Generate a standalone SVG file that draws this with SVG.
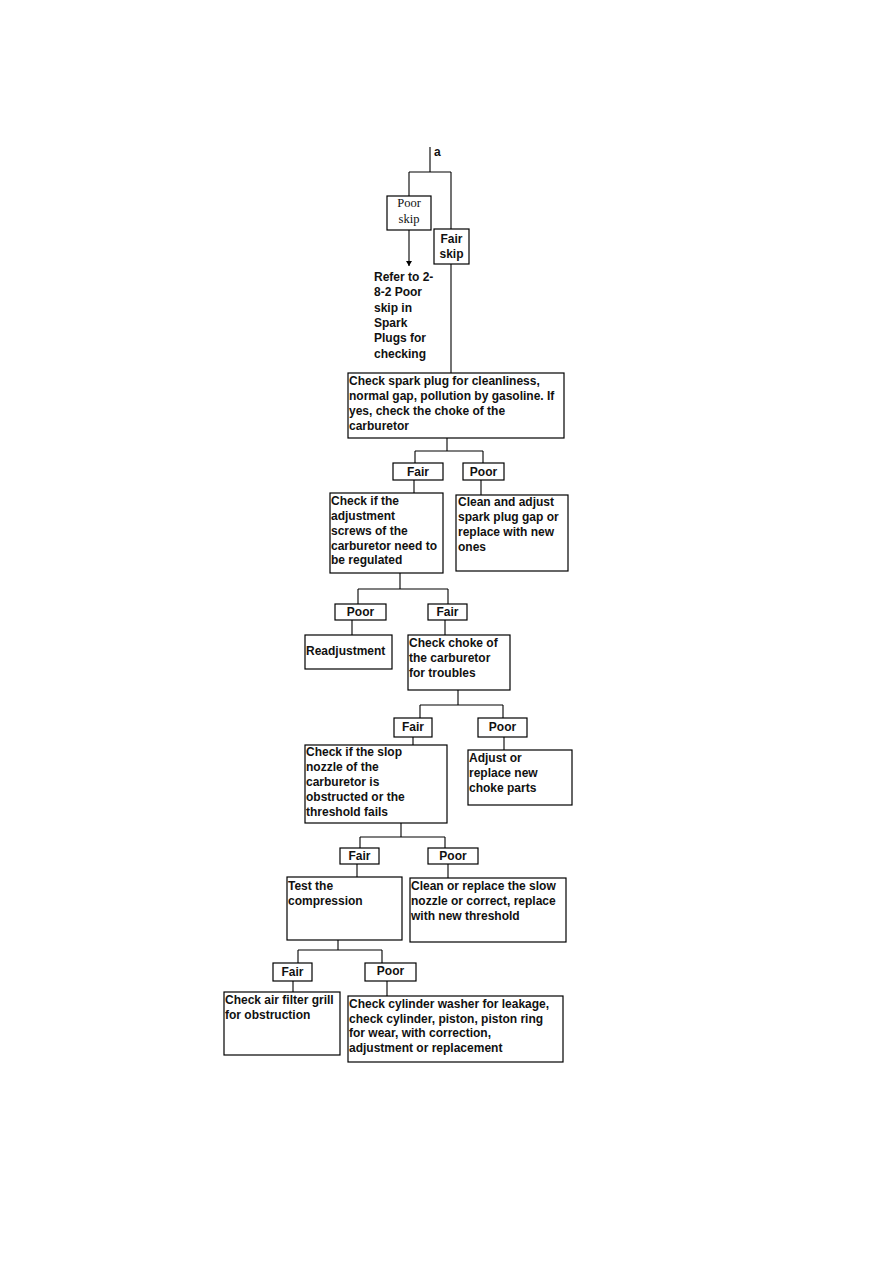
<svg xmlns="http://www.w3.org/2000/svg" width="893" height="1263" viewBox="0 0 893 1263">
<style>
.bx{fill:#fff;stroke:#000;stroke-width:1.2}
.ln{fill:none;stroke:#000;stroke-width:1.1}
text{font-family:"Liberation Sans",Arial,sans-serif;font-weight:bold;font-size:12px;fill:#111}
.c{text-anchor:middle}
.sf{font-family:"Liberation Serif","Times New Roman",serif;font-weight:normal;font-size:12.5px}
</style>
<defs>
<marker id="ah" markerWidth="6" markerHeight="6" refX="5" refY="3" orient="auto" markerUnits="userSpaceOnUse">
<path d="M0,0 L5,3 L0,6 Z" fill="#000"/>
</marker>
</defs>
<rect width="893" height="1263" fill="#fff"/>
<g id="connectors">
<path class="ln" d="M430,147 V172 M409,172 H451 M409,172 V196 M451,172 V229"/>
<path class="ln" d="M409,230 V266" marker-end="url(#ah)"/>
<path class="ln" d="M451,264 V373"/>
<path class="ln" d="M447,438 V451 M415,451 H483 M415,451 V463 M483,451 V463"/>
<path class="ln" d="M414,480 V493 M481,480 V495"/>
<path class="ln" d="M400,573 V589 M358,589 H448 M358,589 V604 M448,589 V604"/>
<path class="ln" d="M352,620 V635 M445,620 V635"/>
<path class="ln" d="M458,690 V705 M420,705 H503 M420,705 V718 M503,705 V718"/>
<path class="ln" d="M413,737 V745 M504,737 V750"/>
<path class="ln" d="M401,823 V837 M360,837 H445 M360,837 V848 M445,837 V848"/>
<path class="ln" d="M357,864 V877 M448,864 V878"/>
<path class="ln" d="M338,940 V950 M298,950 H382 M298,950 V963 M382,950 V963"/>
<path class="ln" d="M293,981 V992 M387,981 V996"/>
</g>
<g id="label-a"><text x="434" y="156" font-size="11">a</text></g>
<g id="poor-skip">
<rect class="bx" x="387" y="196" width="44" height="34"/>
<text class="sf c" x="409" y="207">Poor</text>
<text class="sf c" x="409" y="223">skip</text>
</g>
<g id="fair-skip">
<rect class="bx" x="434" y="229" width="35" height="35"/>
<text class="c" x="451.5" y="243">Fair</text>
<text class="c" x="451.5" y="258">skip</text>
</g>
<g id="refer-note">
<text x="374" y="281">Refer to 2-</text>
<text x="374" y="296">8-2 Poor</text>
<text x="374" y="312">skip in</text>
<text x="374" y="327">Spark</text>
<text x="374" y="342">Plugs for</text>
<text x="374" y="358">checking</text>
</g>
<g id="check-spark">
<rect class="bx" x="348" y="373" width="216" height="65"/>
<text x="349" y="385">Check spark plug for cleanliness,</text>
<text x="349" y="400">normal gap, pollution by gasoline. If</text>
<text x="349" y="415">yes, check the choke of the</text>
<text x="349" y="430">carburetor</text>
</g>
<g id="fair1"><rect class="bx" x="393" y="463" width="50" height="17"/><text class="c" x="418" y="476">Fair</text></g>
<g id="poor1"><rect class="bx" x="463" y="463" width="41" height="17"/><text class="c" x="483.5" y="476">Poor</text></g>
<g id="check-screws">
<rect class="bx" x="330" y="493" width="113" height="80"/>
<text x="331" y="505">Check if the</text>
<text x="331" y="520">adjustment</text>
<text x="331" y="535">screws of the</text>
<text x="331" y="550">carburetor need to</text>
<text x="331" y="564">be regulated</text>
</g>
<g id="clean-adjust">
<rect class="bx" x="456" y="495" width="112" height="76"/>
<text x="458" y="506">Clean and adjust</text>
<text x="458" y="521">spark plug gap or</text>
<text x="458" y="536">replace with new</text>
<text x="458" y="551">ones</text>
</g>
<g id="poor2"><rect class="bx" x="335" y="604" width="51" height="16"/><text class="c" x="360.5" y="616">Poor</text></g>
<g id="fair2"><rect class="bx" x="428" y="604" width="39" height="16"/><text class="c" x="447.5" y="616">Fair</text></g>
<g id="readjustment">
<rect class="bx" x="305" y="635" width="87" height="34"/>
<text x="306" y="655">Readjustment</text>
</g>
<g id="check-choke">
<rect class="bx" x="408" y="635" width="102" height="55"/>
<text x="409" y="647">Check choke of</text>
<text x="409" y="662">the carburetor</text>
<text x="409" y="677">for troubles</text>
</g>
<g id="fair3"><rect class="bx" x="394" y="718" width="38" height="19"/><text class="c" x="413" y="731">Fair</text></g>
<g id="poor3"><rect class="bx" x="478" y="718" width="49" height="19"/><text class="c" x="502.5" y="731">Poor</text></g>
<g id="check-nozzle">
<rect class="bx" x="305" y="745" width="142" height="78"/>
<text x="306" y="756">Check if the slop</text>
<text x="306" y="771">nozzle of the</text>
<text x="306" y="786">carburetor is</text>
<text x="306" y="801">obstructed or the</text>
<text x="306" y="816">threshold fails</text>
</g>
<g id="adjust-choke">
<rect class="bx" x="468" y="750" width="104" height="55"/>
<text x="469" y="762">Adjust or</text>
<text x="469" y="777">replace new</text>
<text x="469" y="792">choke parts</text>
</g>
<g id="fair4"><rect class="bx" x="340" y="848" width="39" height="16"/><text class="c" x="359.5" y="860">Fair</text></g>
<g id="poor4"><rect class="bx" x="428" y="848" width="50" height="16"/><text class="c" x="453" y="860">Poor</text></g>
<g id="test-compression">
<rect class="bx" x="287" y="877" width="115" height="63"/>
<text x="288" y="890">Test the</text>
<text x="288" y="905">compression</text>
</g>
<g id="clean-nozzle">
<rect class="bx" x="410" y="878" width="156" height="64"/>
<text x="411" y="890">Clean or replace the slow</text>
<text x="411" y="905">nozzle or correct, replace</text>
<text x="411" y="920">with new threshold</text>
</g>
<g id="fair5"><rect class="bx" x="273" y="963" width="39" height="18"/><text class="c" x="292.5" y="976">Fair</text></g>
<g id="poor5"><rect class="bx" x="365" y="963" width="51" height="18"/><text class="c" x="390.5" y="975">Poor</text></g>
<g id="check-air-filter">
<rect class="bx" x="224" y="992" width="116" height="63"/>
<text x="225" y="1004">Check air filter grill</text>
<text x="225" y="1019">for obstruction</text>
</g>
<g id="check-cylinder">
<rect class="bx" x="348" y="996" width="215" height="66"/>
<text x="349" y="1008">Check cylinder washer for leakage,</text>
<text x="349" y="1023">check cylinder, piston, piston ring</text>
<text x="349" y="1037">for wear, with correction,</text>
<text x="349" y="1052">adjustment or replacement</text>
</g>
</svg>
